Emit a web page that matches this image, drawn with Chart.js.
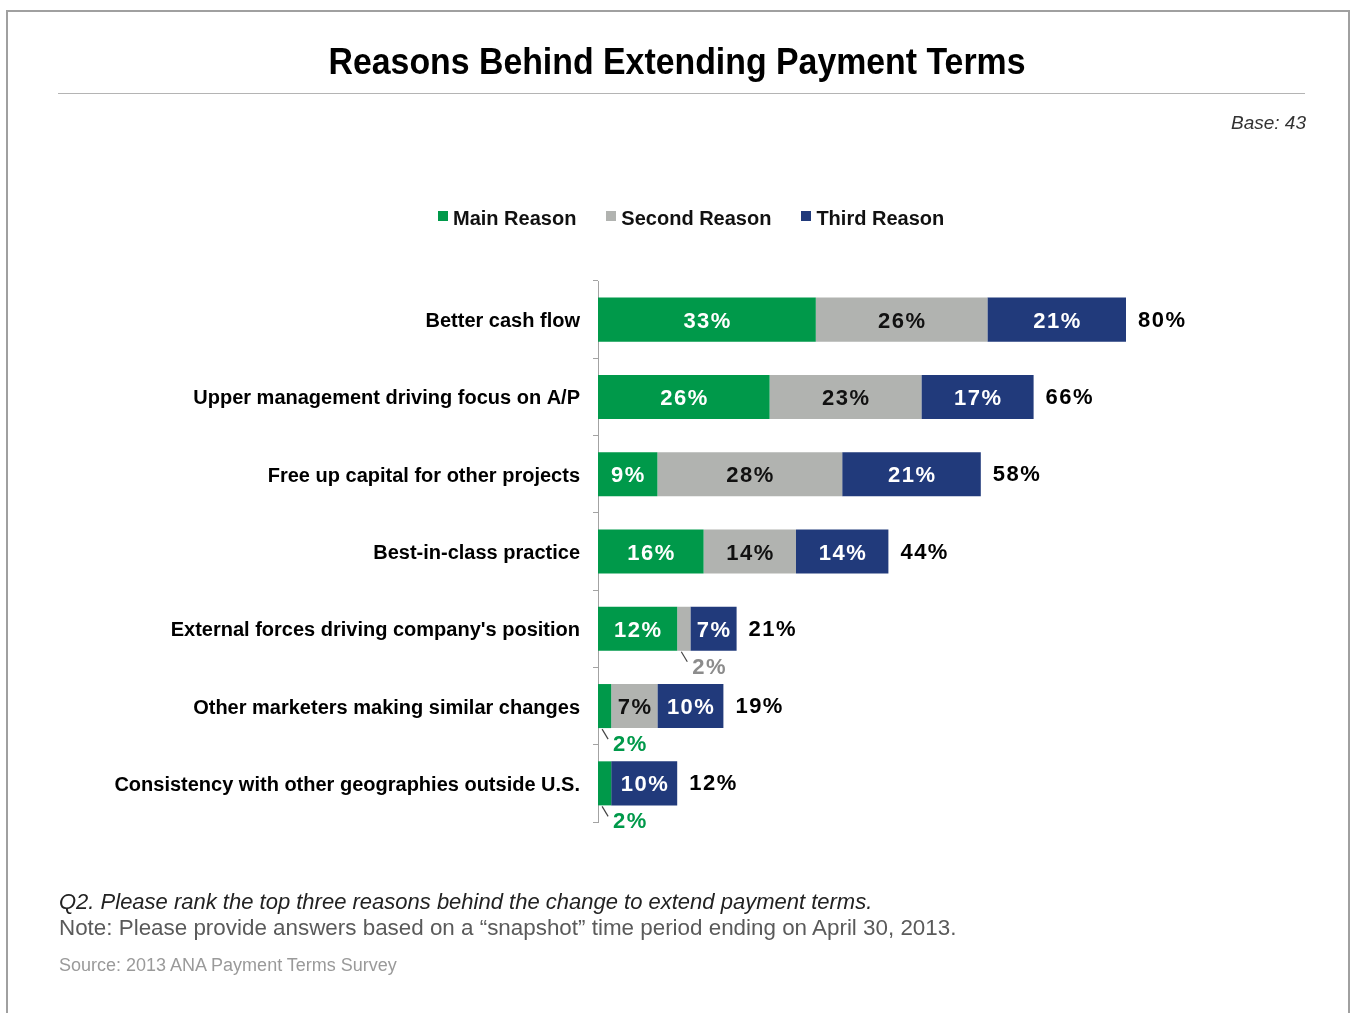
<!DOCTYPE html>
<html>
<head>
<meta charset="utf-8">
<title>Reasons Behind Extending Payment Terms</title>
<script src="https://cdn.jsdelivr.net/npm/chart.js@4.4.1/dist/chart.umd.min.js"></script>
<style>
  html, body { margin: 0; padding: 0; background: #fff; }
  body { width: 1351px; height: 1013px; position: relative; overflow: hidden;
         font-family: "Liberation Sans", Arial, sans-serif; }
  #frame { position: absolute; left: 6px; top: 10px; width: 1344px; height: 1030px;
           border: 2px solid #a0a0a0; box-sizing: border-box; }
  #chartWrap { position: absolute; left: 0; top: 0; width: 1351px; height: 1013px; }
  #title { position: absolute; left: 0; top: 41px; width: 1354px; text-align: center;
           font: bold 36px "Liberation Sans", sans-serif; color: #000;
           transform: scaleX(0.94); transform-origin: 677px 0; }
  #rule { position: absolute; left: 58px; top: 93px; width: 1247px; height: 1px; background: #b4b4b4; }
  #base { position: absolute; right: 45px; top: 112px; font: italic 19px "Liberation Sans", sans-serif; color: #333; }
  #legend { position: absolute; left: 438px; top: 207px; display: flex; gap: 30px;
            font: bold 20px "Liberation Sans", sans-serif; color: #111; }
  #legend .item { display: flex; align-items: center; }
  #legend .sw { width: 10px; height: 10px; margin-right: 5px; margin-top: -6px; }
  #q { position: absolute; left: 59px; top: 889px; font: italic 22px "Liberation Sans", sans-serif; color: #222; }
  #note { position: absolute; left: 59px; top: 915px; font: 22.4px "Liberation Sans", sans-serif; color: #5a5a5a; }
  #source { position: absolute; left: 59px; top: 955px; font: 18px "Liberation Sans", sans-serif; color: #9a9a9a; }
</style>
</head>
<body>
<div id="frame"></div>
<div id="chartWrap"><canvas id="chart" width="1351" height="1013"></canvas></div>
<div id="title">Reasons Behind Extending Payment Terms</div>
<div id="rule"></div>
<div id="base">Base: 43</div>
<div id="legend"></div>
<div id="q">Q2. Please rank the top three reasons behind the change to extend payment terms.</div>
<div id="note">Note: Please provide answers based on a “snapshot” time period ending on April 30, 2013.</div>
<div id="source">Source: 2013 ANA Payment Terms Survey</div>

<script>
// Survey reasons, ranked share of respondents (%)
const categories = [
  "Better cash flow",
  "Upper management driving focus on A/P",
  "Free up capital for other projects",
  "Best-in-class practice",
  "External forces driving company's position",
  "Other marketers making similar changes",
  "Consistency with other geographies outside U.S."
];
const mainReason   = [33, 26, 9, 16, 12, 2, 2];
const secondReason = [26, 23, 28, 14, 2, 7, 0];
const thirdReason  = [21, 17, 21, 14, 7, 10, 10];
const totals       = [80, 66, 58, 44, 21, 19, 12];
const seriesNames  = ["Main Reason", "Second Reason", "Third Reason"];

const GREEN = "#00994a", GREY = "#b1b3b0", NAVY = "#213a7b";

const labelFont = 'bold 22px "Liberation Sans", Arial, sans-serif';

// Value labels inside segments, call-outs for thin segments, and row totals
const barLabels = {
  id: "barLabels",
  afterDatasetsDraw(chart) {
    const ctx = chart.ctx;
    const xs = chart.scales.x;
    ctx.save();
    ctx.font = labelFont;
    ctx.letterSpacing = "1.5px";
    ctx.textBaseline = "middle";
    chart.data.datasets.forEach((ds, di) => {
      const meta = chart.getDatasetMeta(di);
      meta.data.forEach((bar, i) => {
        const v = ds.data[i];
        if (!v) return;
        const left = Math.min(bar.x, bar.base), right = Math.max(bar.x, bar.base);
        const cx = (left + right) / 2;
        if (v >= 5) {
          ctx.fillStyle = ds.insideColor;
          ctx.textAlign = "center";
          ctx.fillText(v + "%", cx + 0.75, bar.y + 2);
        } else {
          const bottom = bar.y + bar.height / 2;
          const sx = cx - 2.5, sy = bottom + 1;
          const ex = sx + 6, ey = bottom + 11;
          ctx.strokeStyle = "#444";
          ctx.lineWidth = 1.2;
          ctx.beginPath();
          ctx.moveTo(sx, sy);
          ctx.lineTo(ex, ey);
          ctx.stroke();
          ctx.fillStyle = ds.calloutColor;
          ctx.textAlign = "left";
          ctx.fillText(v + "%", ex + 5, bottom + 17);
        }
      });
    });
    const ref = chart.getDatasetMeta(0).data;
    ctx.fillStyle = "#000";
    ctx.textAlign = "left";
    totals.forEach((t, i) => {
      ctx.fillText(t + "%", xs.getPixelForValue(t) + 12, ref[i].y + 1);
    });
    ctx.restore();
  }
};

const chart = new Chart(document.getElementById("chart"), {
  type: "bar",
  data: {
    labels: categories,
    datasets: [
      { label: seriesNames[0], data: mainReason,   backgroundColor: GREEN, insideColor: "#fff", calloutColor: "#00994a" },
      { label: seriesNames[1], data: secondReason, backgroundColor: GREY,  insideColor: "#111", calloutColor: "#8c8c8c" },
      { label: seriesNames[2], data: thirdReason,  backgroundColor: NAVY,  insideColor: "#fff", calloutColor: NAVY }
    ]
  },
  options: {
    indexAxis: "y",
    responsive: false,
    animation: false,
    layout: { padding: { top: 281, bottom: 191, right: 93, left: 0 } },
    datasets: { bar: { categoryPercentage: 0.57, barPercentage: 1, borderWidth: 0 } },
    scales: {
      x: { stacked: true, min: 0, max: 100, display: false },
      y: {
        stacked: true,
        afterFit(scale) { scale.width = 598; },
        border: { display: true, color: "#a3a3a3", width: 1 },
        grid: { offset: true, drawOnChartArea: false, drawTicks: true, tickLength: 5, color: "#a3a3a3" },
        ticks: { padding: 13, labelOffset: 2, color: "#000", font: { family: '"Liberation Sans", sans-serif', size: 20, weight: "bold", lineHeight: 1 } }
      }
    },
    plugins: { legend: { display: false }, tooltip: { enabled: false } }
  },
  plugins: [barLabels]
});

// Legend built from the dataset names and colours
const legendEl = document.getElementById("legend");
chart.data.datasets.forEach(ds => {
  const item = document.createElement("div");
  item.className = "item";
  const sw = document.createElement("span");
  sw.className = "sw";
  sw.style.background = ds.backgroundColor;
  const tx = document.createElement("span");
  tx.textContent = ds.label;
  item.appendChild(sw);
  item.appendChild(tx);
  legendEl.appendChild(item);
});
</script>
</body>
</html>
